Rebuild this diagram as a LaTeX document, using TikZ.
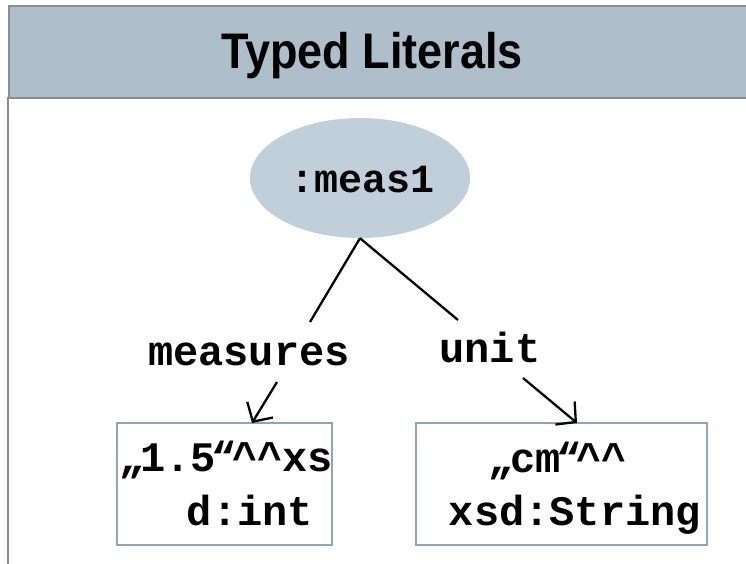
\documentclass[tikz,border=0pt]{standalone}
\usepackage{fontspec}
\setmainfont{Liberation Sans}
\newfontfamily\cour{Liberation Mono}
\usetikzlibrary{arrows.meta,shapes.geometric}
\definecolor{titlefill}{HTML}{AEBFCB}
\definecolor{framegray}{HTML}{8C8C8C}
\definecolor{ellfill}{HTML}{C1CFDA}
\definecolor{boxline}{HTML}{91A4B7}
\newcommand\lowq{\kern-4pt„\kern-4pt}
\newcommand\highq{\kern-4pt“\kern-5pt}
\begin{document}
\begin{tikzpicture}[x=1pt,y=-1pt,
  monotext/.style={font=\cour\bfseries\fontsize{42}{42}\selectfont, inner sep=0pt, anchor=base},
  litbox/.style={draw=boxline, line width=1.5pt, fill=white, inner sep=0pt},
  conn/.style={line width=2.3pt, black},
  arr/.style={conn, -{Straight Barb[length=14pt,width=30pt,line width=2.3pt]}}]
\useasboundingbox (0,0) rectangle (746,563);
% frame
\fill[white] (0,0) rectangle (746,563);
\draw[framegray, line width=2pt] (8,97) -- (8,570);
\node[draw=framegray, line width=2pt, fill=titlefill, minimum width=750pt, minimum height=92pt, anchor=north west, inner sep=0pt] (bar) at (8,5) {};
\node[font=\bfseries\fontsize{50}{50}\selectfont, anchor=base, inner sep=0pt, xscale=0.9] (title) at (372,68) {Typed Literals};
% subject ellipse
\node[ellipse, fill=ellfill, minimum width=220pt, minimum height=120pt, inner sep=0pt] (m) at (360,178) {};
\node[monotext, font=\cour\bfseries\fontsize{40}{40}\selectfont] (mt) at (363,192) {:meas1};
% boxes
\node[litbox, minimum width=215pt, minimum height=122pt] (b1) at (224.5,484) {};
\node[litbox, minimum width=291pt, minimum height=122pt] (b2) at (561.5,484) {};
\node[monotext] (b1t1) at (228,471) {\lowq 1.5\highq\textasciicircum\textasciicircum xs};
\node[monotext] (b1t2) at (250,525) {d:int};
\node[monotext] (b2t1) at (560,472) {\lowq cm\highq\textasciicircum\textasciicircum};
\node[monotext] (b2t2) at (575,525) {xsd:String};
% property labels
\node[monotext] (p1) at (249,365) {measures};
\node[monotext] (p2) at (490,362) {unit};
% connectors
\coordinate (l1e) at (310,322);
\coordinate (r1e) at (458,320);
\coordinate (a1s) at (277,382);
\coordinate (a2s) at (523,378);
\coordinate (a1e) at (252,423);
\coordinate (a2e) at (577,423);
\draw[conn] (m.south) -- (l1e);
\draw[conn] (m.south) -- (r1e);
\draw[arr] (a1s) -- (a1e);
\draw[arr] (a2s) -- (a2e);
\end{tikzpicture}
\end{document}
